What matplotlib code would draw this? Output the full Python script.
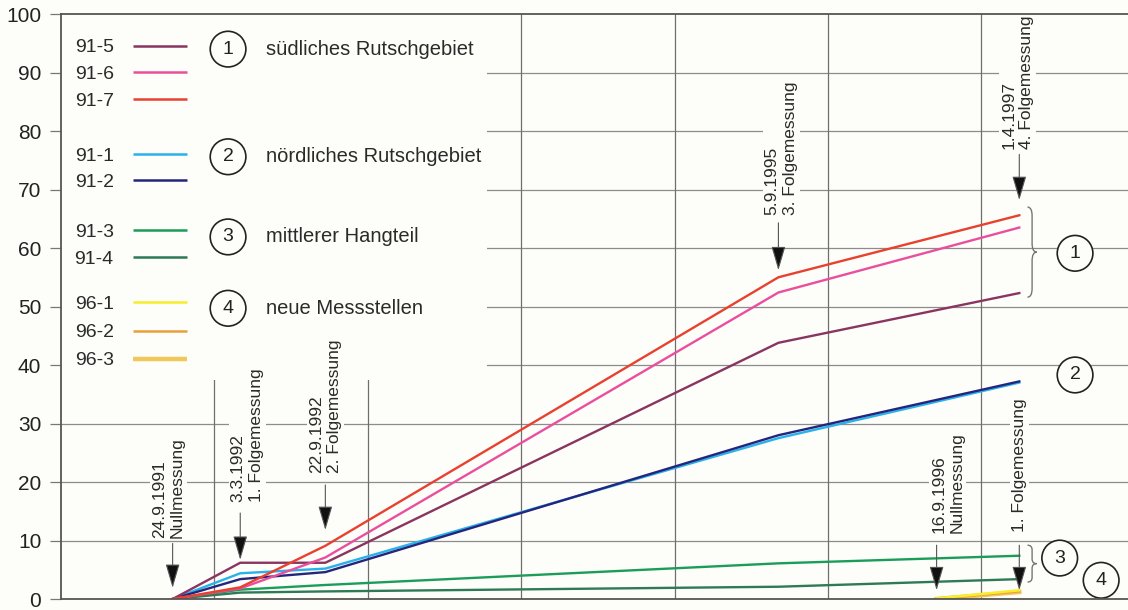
import matplotlib
matplotlib.use("Agg")
import matplotlib.pyplot as plt
import matplotlib.patches as patches
from matplotlib.path import Path
from datetime import date

plt.rcParams['font.family'] = ['Liberation Sans', 'DejaVu Sans']

# --- Messtermine ---
dates_91 = ["24.9.1991", "3.3.1992", "22.9.1992", "5.9.1995", "1.4.1997"]
dates_96 = ["16.9.1996", "1.4.1997"]

# --- Verschiebungen je Messstelle ---
names_91 = ["91-5", "91-6", "91-7", "91-1", "91-2", "91-3", "91-4"]
v_91_5 = [0, 6.2, 6.2, 43.8, 52.3]
v_91_6 = [0, 1.8, 7.1, 52.4, 63.5]
v_91_7 = [0, 2.0, 9.1, 55.0, 65.6]
v_91_1 = [0, 4.4, 5.2, 27.5, 37.0]
v_91_2 = [0, 3.4, 4.6, 28.0, 37.2]
v_91_3 = [0, 1.6, 2.4, 6.1, 7.4]
v_91_4 = [0, 1.1, 1.3, 2.1, 3.4]
names_96 = ["96-1", "96-2", "96-3"]
v_96_1 = [0.1, 1.5]
v_96_2 = [0.05, 1.3]
v_96_3 = [0.0, 1.2]

colors = {
    "91-5": "#8a3560", "91-6": "#ea4f9e", "91-7": "#e8412f",
    "91-1": "#29b2ea", "91-2": "#24267e",
    "91-3": "#1b9d5a", "91-4": "#2d7a55",
    "96-1": "#f7ee2c", "96-2": "#e9a13c", "96-3": "#f2c75a",
}

groups = ["südliches Rutschgebiet", "nördliches Rutschgebiet",
          "mittlerer Hangteil", "neue Messstellen"]


def to_year(s):
    d, m, y = [int(p) for p in s.split(".")]
    start = date(y, 1, 1)
    n = (date(y + 1, 1, 1) - start).days
    return y + (date(y, m, d) - start).days / n


t91 = [to_year(s) for s in dates_91]
t96 = [to_year(s) for s in dates_96]

BG = "#fdfdf9"
fig = plt.figure(figsize=(11.28, 6.10), dpi=100, facecolor=BG)
ax = fig.add_axes([0.0539, 0.018, 0.9461, 0.959], facecolor=BG)
ax.set_xlim(1991, 1997.955)
ax.set_ylim(0, 100)

# --- Raster ---
for yv in range(10, 100, 10):
    ax.axhline(yv, color="#8c8c8c", lw=0.9, zorder=0)
for xv in range(1992, 1998):
    ax.axvline(xv, color="#6e6e6e", lw=0.9, zorder=0)
# Legendenfeld (deckt Raster ab)
ax.add_patch(patches.Rectangle((1991, 37.5), 2.78, 62.5, fc=BG, ec="none", zorder=1))

# --- Messreihen ---
series_91 = [v_91_5, v_91_6, v_91_7, v_91_1, v_91_2, v_91_3, v_91_4]
order = [5, 6, 3, 4, 0, 1, 2]
for i in order:
    ax.plot(t91, series_91[i], color=colors[names_91[i]], lw=1.7, zorder=3)
ax.plot(t96, v_96_3, color=colors["96-3"], lw=3.2, zorder=3)
ax.plot(t96, v_96_2, color=colors["96-2"], lw=1.8, zorder=3)
ax.plot(t96, v_96_1, color=colors["96-1"], lw=1.8, zorder=3)

# --- Legende ---
leg_names = names_91[:3] + names_91[3:5] + names_91[5:] + names_96
leg_y = [94.6, 90.1, 85.4, 76.1, 71.6, 63.0, 58.4, 50.8, 45.9, 41.1]
for n, yv in zip(leg_names, leg_y):
    lw = 3.2 if n == "96-3" else 1.8
    ax.plot([1991.47, 1991.82], [yv, yv], color=colors[n], lw=lw, zorder=3,
            solid_capstyle="butt")
    ax.text(1991.345, yv - 0.4, n, ha="right", va="center", fontsize=14,
            color="#2a2a2a", zorder=3)

circle_box = dict(boxstyle="circle,pad=0.48", fc=BG, ec="#222222", lw=1.2)
group_y = [94.0, 75.6, 61.9, 49.7]
for k, (g, yv) in enumerate(zip(groups, group_y)):
    ax.text(1992.09, yv, str(k + 1), ha="center", va="center", fontsize=14,
            color="#222222", bbox=circle_box, zorder=4)
    ax.text(1992.34, yv, g, ha="left", va="center", fontsize=14.5,
            color="#2a2a2a", zorder=4)

# --- Pfeile und Beschriftungen ---
marks = [
    (dates_91[0], "24.9.1991\nNullmessung", 9.5, 1.9, 10.4, -3),
    (dates_91[1], "3.3.1992\n1. Folgemessung", 14.7, 6.7, 16.6, 5),
    (dates_91[2], "22.9.1992\n2. Folgemessung", 19.5, 11.8, 21.5, 0),
    (dates_91[3], "5.9.1995\n3. Folgemessung", 64.3, 56.2, 65.6, 2),
    (dates_91[4], "1.4.1997\n4. Folgemessung", 76.0, 68.2, 76.9, -1),
    (dates_96[0], "16.9.1996\nNullmessung", 9.2, 1.5, 11.3, 8),
    (dates_96[1], "1. Folgemessung", 9.2, 1.5, 11.5, 0),
]
for d, label, y_tail, y_tip, y_text, dx in marks:
    x = to_year(d)
    ax.annotate("", xy=(x, y_tip), xytext=(x, y_tail), zorder=5,
                arrowprops=dict(arrowstyle="-|>,head_length=0.75,head_width=0.22",
                                mutation_scale=20, lw=0.8, color="#555555",
                                fc="#111111", shrinkA=0, shrinkB=0))
    ax.annotate(label, xy=(x, y_text), xytext=(dx, 0), textcoords="offset points",
                rotation=90, ha="center", va="bottom", multialignment="left",
                fontsize=12.5, color="#2a2a2a", linespacing=1.25, zorder=5,
                bbox=dict(fc=BG, ec="none", pad=1.5))


# --- geschweifte Klammern rechts ---
def brace(x, y0, y1, w, r):
    ym = (y0 + y1) / 2
    xm = x + w * 0.5
    verts = [(x, y1), (xm, y1), (xm, y1 - r),
             (xm, ym + r),
             (xm, ym), (x + w, ym),
             (xm, ym), (xm, ym - r),
             (xm, y0 + r),
             (xm, y0), (x, y0)]
    codes = [Path.MOVETO, Path.CURVE3, Path.CURVE3,
             Path.LINETO,
             Path.CURVE3, Path.CURVE3,
             Path.CURVE3, Path.CURVE3,
             Path.LINETO,
             Path.CURVE3, Path.CURVE3]
    ax.add_patch(patches.PathPatch(Path(verts, codes), fc="none", ec="#777777",
                                   lw=1.0, zorder=4))


brace(1997.30, 51.6, 67.0, 0.06, 1.5)
brace(1997.30, 2.9, 9.2, 0.06, 0.8)

right_circles = [("1", 1997.61, 59.1), ("2", 1997.61, 38.3),
                 ("3", 1997.51, 7.0), ("4", 1997.78, 3.2)]
for s, xv, yv in right_circles:
    ax.text(xv, yv, s, ha="center", va="center", fontsize=14, color="#222222",
            bbox=circle_box, zorder=4)

# --- Achsen ---
ax.set_yticks(range(0, 101, 10))
ax.set_xticks([])
ax.tick_params(axis="y", length=8, width=0.9, color="#777777", pad=6,
               labelsize=15, labelcolor="#222222")
for side in ["left", "bottom", "top"]:
    ax.spines[side].set_color("#555555")
    ax.spines[side].set_linewidth(1.3)
    ax.spines[side].set_zorder(6)
ax.spines["right"].set_visible(False)

fig.savefig("out.png", dpi=100, facecolor=BG)
